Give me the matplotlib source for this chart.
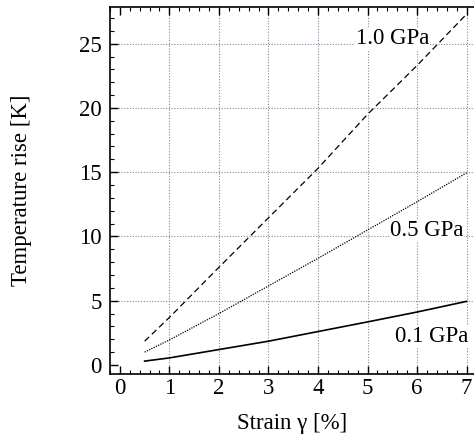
import matplotlib
matplotlib.use("Agg")
import matplotlib.pyplot as plt
from matplotlib.ticker import MultipleLocator

# --- datos ---
strain = [0.5, 1, 2, 3, 4, 5, 6, 7]
rise_10 = [1.85, 3.7, 7.6, 11.45, 15.3, 19.5, 23.3, 27.3]   # 1.0 GPa
rise_05 = [1.0, 1.95, 4.0, 6.15, 8.3, 10.5, 12.7, 14.95]     # 0.5 GPa
rise_01 = [0.3, 0.55, 1.2, 1.85, 2.6, 3.35, 4.12, 4.95]      # 0.1 GPa

x_ticks = [0, 1, 2, 3, 4, 5, 6, 7]
y_ticks = [0, 5, 10, 15, 20, 25]

FS = 16.5
plt.rcParams['font.family'] = ['Liberation Serif', 'DejaVu Serif']

fig = plt.figure(figsize=(4.74, 4.41), dpi=100)
ax = fig.add_axes([0.232, 0.152, 0.768, 0.832])

ax.plot(strain, rise_10, color='black', linestyle=(0, (5, 3)), linewidth=0.9)
ax.plot(strain, rise_05, color='black', linestyle=(0, (1, 1)), linewidth=0.9)
ax.plot(strain, rise_01, color='black', linestyle='-', linewidth=1.2)

box = dict(facecolor='white', edgecolor='none', pad=0.5)
ax.text(5.5, 25.4, '1.0 GPa', fontsize=FS, ha='center', va='center', bbox=box)
ax.text(6.2, 10.5, '0.5 GPa', fontsize=FS, ha='center', va='center', bbox=box)
ax.text(6.3, 2.2, '0.1 GPa', fontsize=FS, ha='center', va='center', bbox=box)

ax.set_xlim(-0.2, 7.15)
ax.set_ylim(-0.7, 27.85)
ax.set_xticks(x_ticks)
ax.set_yticks(y_ticks)
ax.xaxis.set_minor_locator(MultipleLocator(0.2))
ax.yaxis.set_minor_locator(MultipleLocator(1))
ax.tick_params(which='both', direction='in', top=True, right=False, labelsize=FS)
ax.tick_params(axis='x', which='major', length=6, width=1, pad=3)
ax.tick_params(axis='y', which='major', length=6, width=1, pad=6)
ax.tick_params(which='minor', length=3, width=0.8)

for v in x_ticks[1:]:
    ax.axvline(v, color='#8585a8', linestyle=(0, (1, 1.5)), linewidth=0.8, zorder=0)
for v in y_ticks[1:]:
    ax.axhline(v, color='#8585a8', linestyle=(0, (1, 1.5)), linewidth=0.8, zorder=0)

ax.spines['right'].set_visible(False)
for s in ['left', 'bottom', 'top']:
    ax.spines[s].set_linewidth(1.2)

ax.set_xlabel('Strain γ [%]', fontsize=FS, labelpad=10)
ax.set_ylabel('Temperature rise [K]', fontsize=FS, labelpad=34)

fig.savefig('out.png', dpi=100)
